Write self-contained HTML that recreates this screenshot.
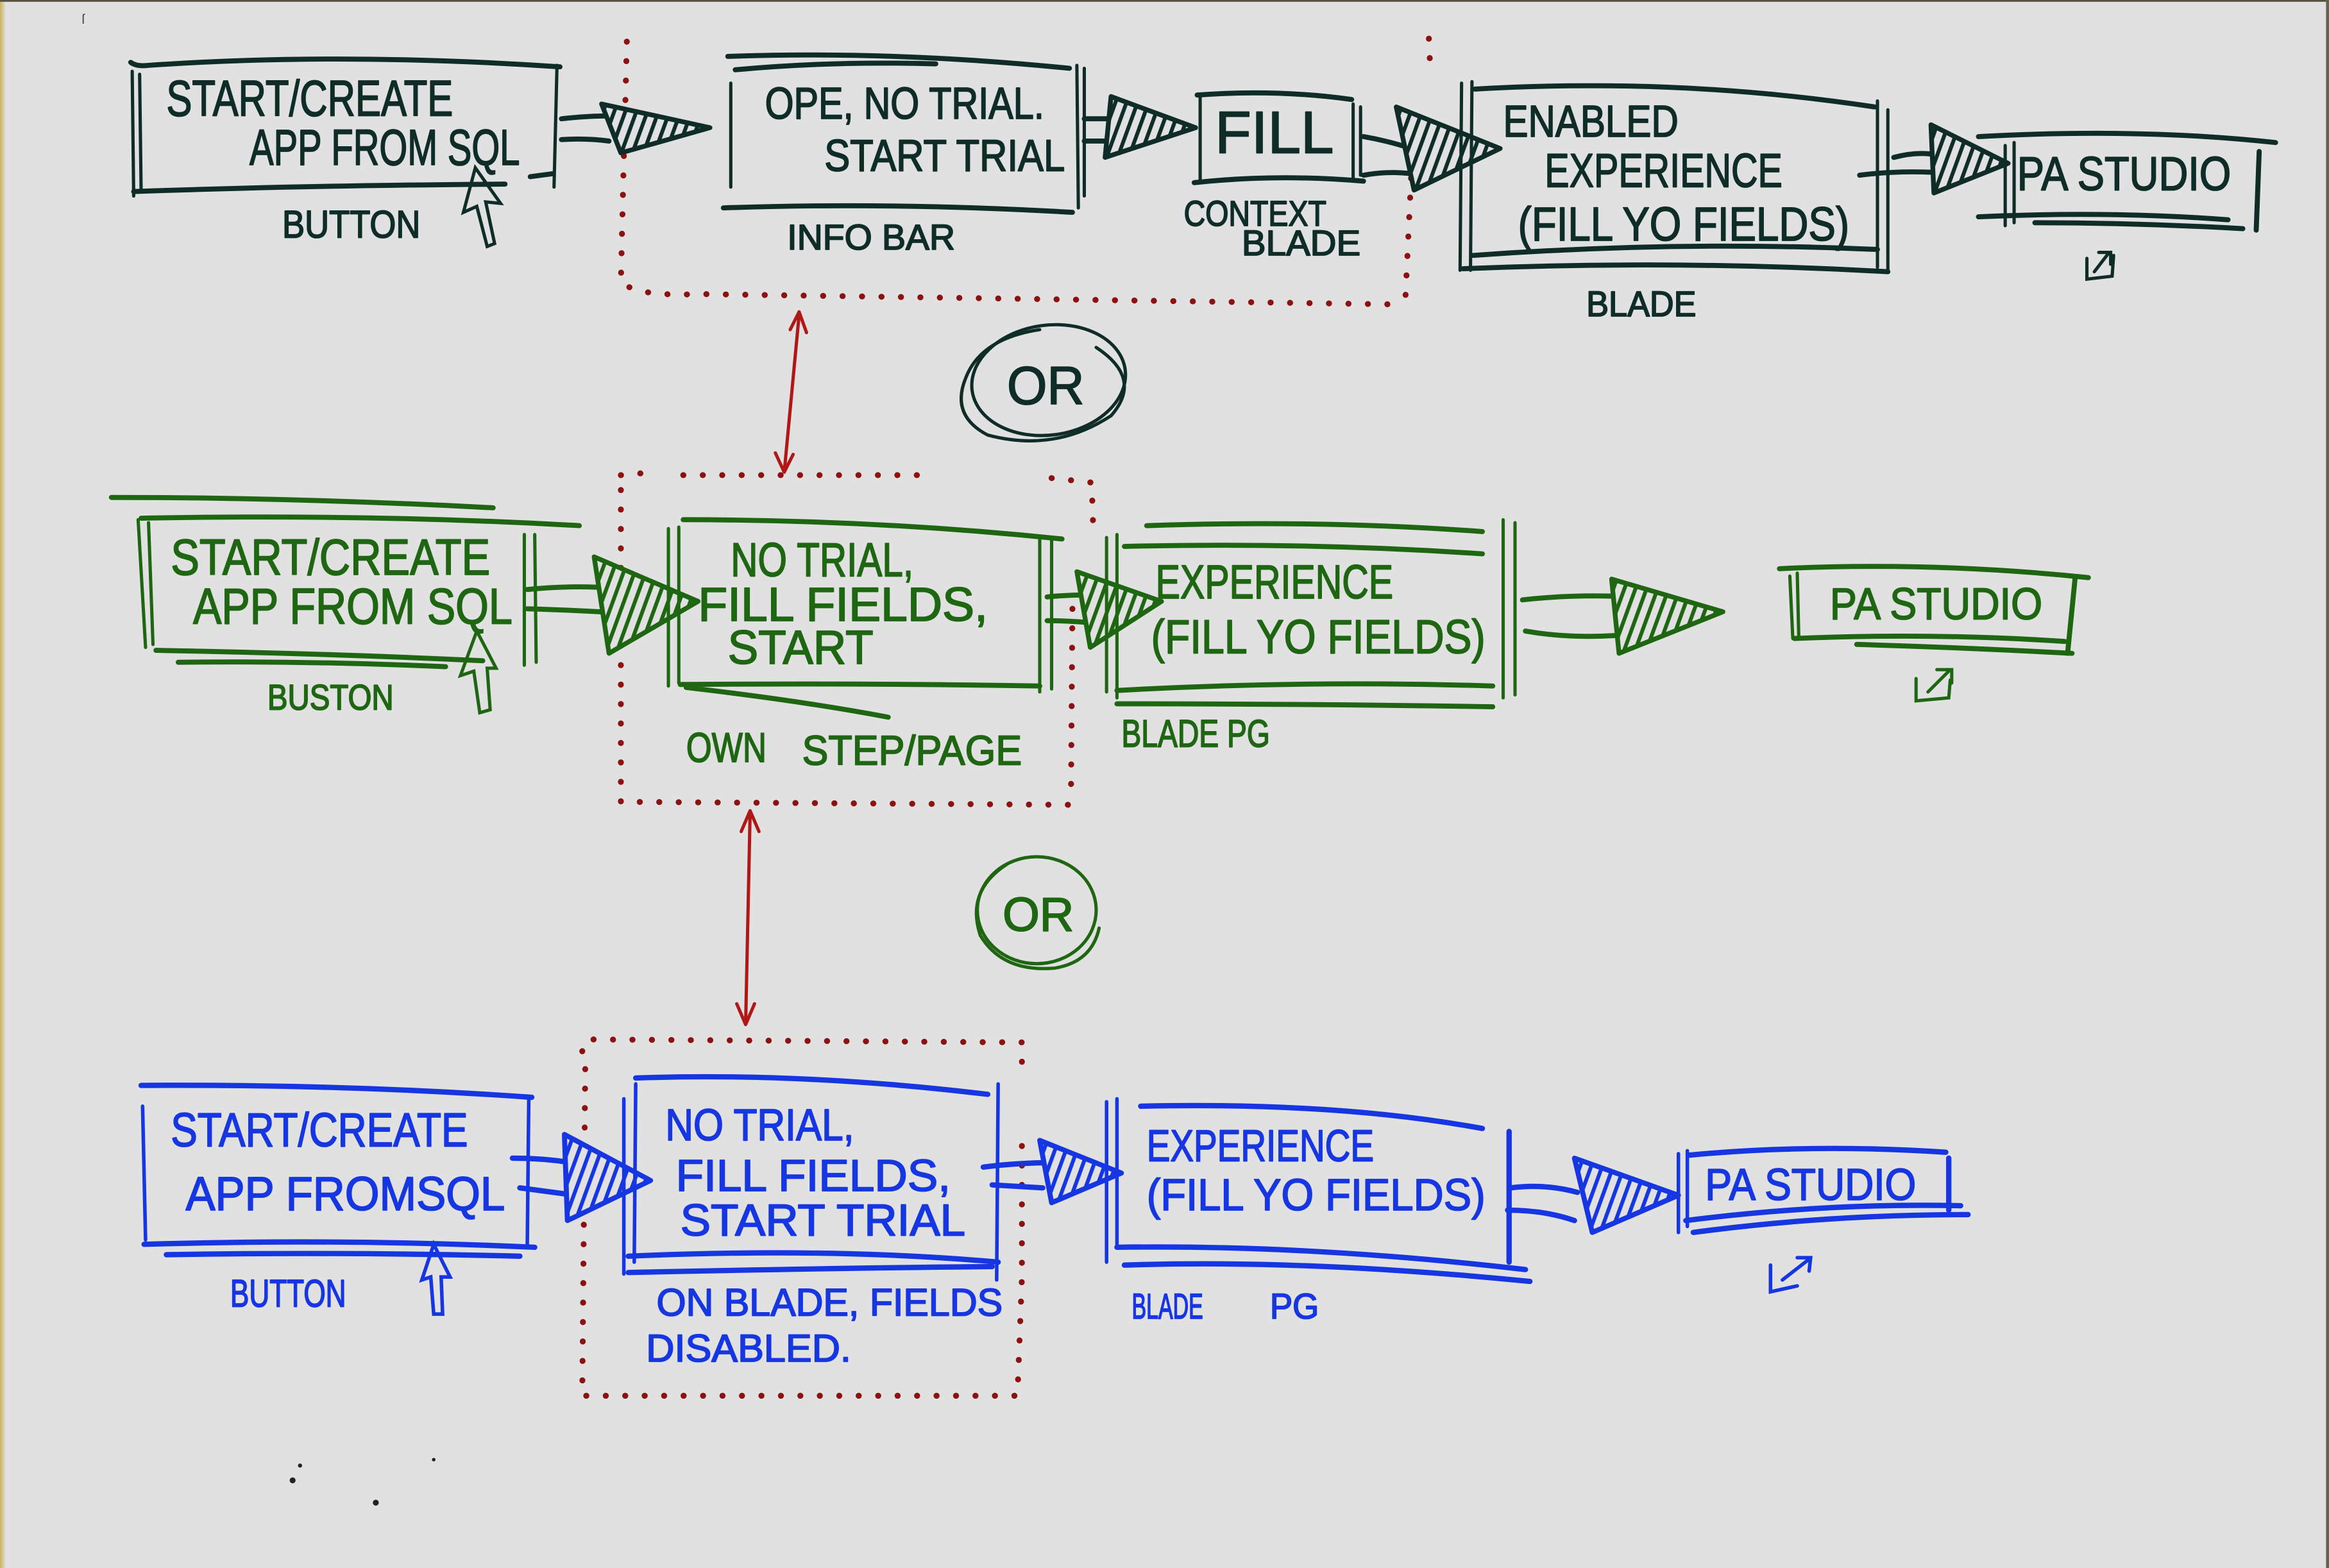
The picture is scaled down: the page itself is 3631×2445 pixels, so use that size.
<!DOCTYPE html>
<html><head><meta charset="utf-8"><style>
html,body{margin:0;padding:0;background:#e1e1e1;}
svg{display:block;}
text{font-family:"Liberation Sans Narrow","Liberation Sans",sans-serif;stroke-width:0.8;stroke-linejoin:round}
.k{stroke:#0f2c27;fill:none;stroke-width:3.4;stroke-linecap:round;stroke-linejoin:round}
.kt{stroke:#0f2c27;fill:none;stroke-width:2.2;stroke-linecap:round}
.g{stroke:#1f6613;fill:none;stroke-width:3.4;stroke-linecap:round;stroke-linejoin:round}
.gt{stroke:#1f6613;fill:none;stroke-width:2.2;stroke-linecap:round}
.b{stroke:#1636e2;fill:none;stroke-width:3.6;stroke-linecap:round;stroke-linejoin:round}
.bt{stroke:#1636e2;fill:none;stroke-width:2.4;stroke-linecap:round}
.r{stroke:#8c1212;fill:none;stroke-width:4;stroke-linecap:round;stroke-dasharray:0.1 13}
.ra{stroke:#b01818;fill:none;stroke-width:2.2;stroke-linecap:round;stroke-linejoin:round}
.tk{fill:#0f2c27;stroke:#0f2c27}.tg{fill:#1f6613;stroke:#1f6613}.tb{fill:#1636e2;stroke:#1636e2}
</style></head><body>
<svg width="3631" height="2445" viewBox="0 0 1568 1056" preserveAspectRatio="none" xmlns="http://www.w3.org/2000/svg">
<defs>
<pattern id="hk" patternUnits="userSpaceOnUse" width="7" height="7" patternTransform="rotate(20)"><rect width="7" height="7" fill="#e1e1e1"/><rect width="2.6" height="7" fill="#0f2c27"/></pattern>
<pattern id="hg" patternUnits="userSpaceOnUse" width="7" height="7" patternTransform="rotate(20)"><rect width="7" height="7" fill="#e1e1e1"/><rect width="2.6" height="7" fill="#1f6613"/></pattern>
<pattern id="hb" patternUnits="userSpaceOnUse" width="7" height="7" patternTransform="rotate(20)"><rect width="7" height="7" fill="#e1e1e1"/><rect width="2.6" height="7" fill="#1636e2"/></pattern>
<linearGradient id="edge" x1="0" x2="1" y1="0" y2="0"><stop offset="0" stop-color="#c9b35a"/><stop offset="1" stop-color="#e1e1e1"/></linearGradient>
</defs>
<rect x="0" y="0" width="1568" height="1056" fill="#e1e1e1"/>
<rect x="0" y="0" width="4" height="1056" fill="url(#edge)"/>
<rect x="0" y="0" width="1568" height="1.2" fill="#5a5040"/>
<rect x="1566" y="0" width="2" height="1056" fill="#6a6050"/>

<!-- ================= TOP ROW (dark) ================= -->
<path class="r" d="M422,28 L421,70 M420,105 L418,190 Q430,200 470,198 L940,205 M962,26 L963,48 M950,120 L946,205"/>
<!-- Box 1 -->
<path class="k" d="M88,42 Q92,45 100,44 Q230,35 377,45"/>
<path class="kt" d="M89,48 L90,132 M94,50 L95,128"/>
<path class="kt" d="M375,44 L373,126"/>
<path class="k" d="M90,129 Q200,125 340,124 M357,119 L372,117"/>
<text class="tk" x="112" y="78" font-size="34" textLength="193" lengthAdjust="spacingAndGlyphs">START/CREATE</text>
<text class="tk" x="168" y="111" font-size="34" textLength="182" lengthAdjust="spacingAndGlyphs">APP FROM SQL</text>
<text class="tk" x="190" y="160" font-size="26" textLength="93" lengthAdjust="spacingAndGlyphs">BUTTON</text>
<path class="kt" d="M320,113 L312,143 L321,139 L328,166 L333,164 L327,136 L337,137 Z"/>
<!-- arrow 1 -->
<path class="k" d="M378,80 Q395,78 415,78 M378,94 Q395,93 410,95"/>
<polygon points="405,70 478,86 418,103" fill="url(#hk)" stroke="#0f2c27" stroke-width="3.2" stroke-linejoin="round"/>
<!-- Box 2 -->
<path class="k" d="M490,38 Q600,34 720,46 M495,47 Q560,41 630,43"/>
<path class="kt" d="M492,56 L492,126"/>
<path class="kt" d="M725,44 L726,140 M730,46 L730,132"/>
<path class="k" d="M487,140 Q600,136 722,143"/>
<text class="tk" x="515" y="80" font-size="30" textLength="188" lengthAdjust="spacingAndGlyphs">OPE, NO TRIAL.</text>
<text class="tk" x="555" y="115" font-size="30" textLength="162" lengthAdjust="spacingAndGlyphs">START TRIAL</text>
<text class="tk" x="530" y="168" font-size="24" textLength="113" lengthAdjust="spacingAndGlyphs">INFO BAR</text>
<!-- arrow 2 -->
<path class="k" d="M730,80 L758,80 M730,95 L758,95"/>
<polygon points="748,65 805,86 744,106" fill="url(#hk)" stroke="#0f2c27" stroke-width="3.2" stroke-linejoin="round"/>
<!-- Box 3 FILL -->
<path class="k" d="M806,64 Q860,60 910,67"/>
<path class="kt" d="M808,64 L808,121 M911,70 L911,122 M916,72 L916,118"/>
<path class="k" d="M804,123 Q860,117 918,122"/>
<text class="tk" x="818" y="103" font-size="40" textLength="80" lengthAdjust="spacingAndGlyphs">FILL</text>
<text class="tk" x="797" y="152" font-size="24" textLength="96" lengthAdjust="spacingAndGlyphs">CONTEXT</text>
<text class="tk" x="836" y="172" font-size="24" textLength="80" lengthAdjust="spacingAndGlyphs">BLADE</text>
<!-- arrow 3 -->
<path class="k" d="M918,92 Q935,95 950,100 M918,118 Q935,115 950,117"/>
<polygon points="940,72 1010,100 952,128" fill="url(#hk)" stroke="#0f2c27" stroke-width="3.2" stroke-linejoin="round"/>
<!-- Box 4 -->
<path class="kt" d="M984,56 L983,182 M991,55 L990,182"/>
<path class="k" d="M993,60 Q1130,52 1262,72"/>
<path class="kt" d="M1264,68 L1264,180 M1271,74 L1271,182"/>
<path class="k" d="M992,172 Q1130,162 1264,168 M985,181 Q1130,175 1271,183"/>
<text class="tk" x="1012" y="92" font-size="30" textLength="118" lengthAdjust="spacingAndGlyphs">ENABLED</text>
<text class="tk" x="1040" y="126" font-size="32" textLength="160" lengthAdjust="spacingAndGlyphs">EXPERIENCE</text>
<text class="tk" x="1022" y="162" font-size="32" textLength="223" lengthAdjust="spacingAndGlyphs">(FILL YO FIELDS)</text>
<text class="tk" x="1068" y="213" font-size="24" textLength="74" lengthAdjust="spacingAndGlyphs">BLADE</text>
<!-- arrow 4 -->
<path class="k" d="M1252,118 Q1275,115 1300,116 M1275,106 Q1290,102 1302,104"/>
<polygon points="1300,84 1352,110 1302,130" fill="url(#hk)" stroke="#0f2c27" stroke-width="3.2" stroke-linejoin="round"/>
<!-- Box 5 -->
<path class="k" d="M1332,92 Q1440,86 1532,96"/>
<path class="kt" d="M1350,98 L1350,152 M1356,96 L1356,150"/>
<path class="k" d="M1521,102 L1519,155"/>
<path class="k" d="M1332,146 Q1420,142 1500,148 M1370,150 Q1440,150 1510,154"/>
<text class="tk" x="1358" y="128" font-size="32" textLength="144" lengthAdjust="spacingAndGlyphs">PA STUDIO</text>
<path class="kt" d="M1405,174 L1405,188 L1422,186 L1423,172 M1410,183 L1420,170 M1413,170 L1421,170 L1421,178"/>
<!-- OR circle 1 -->
<ellipse cx="706" cy="256" rx="52" ry="37" class="kt" transform="rotate(-8 706 256)"/>
<path class="kt" d="M738,234 Q770,255 748,280 Q710,305 665,293 Q640,280 650,255 Q660,228 700,222"/>
<text class="tk" x="678" y="272" font-size="36" textLength="52" lengthAdjust="spacingAndGlyphs">OR</text>
<!-- red double arrow 1 -->
<path class="ra" d="M538,212 L528,318 M532,222 L538,210 L543,224 M522,305 L528,318 L534,306"/>

<!-- ================= MIDDLE ROW (green) ================= -->
<path class="r" d="M418,320 L440,318 M460,320 L625,320 M708,322 L735,325 L736,356 M418,330 L418,540 L720,542 M722,410 L721,540"/>
<!-- Box 6 -->
<path class="g" d="M75,335 Q200,335 332,342 M95,349 Q250,346 390,354"/>
<path class="gt" d="M93,350 L98,436 M100,352 L103,434"/>
<path class="gt" d="M353,360 L353,448 M360,360 L361,446"/>
<path class="g" d="M105,438 Q220,440 325,445 M120,446 Q210,445 300,449"/>
<text class="tg" x="115" y="387" font-size="34" textLength="215" lengthAdjust="spacingAndGlyphs">START/CREATE</text>
<text class="tg" x="130" y="420" font-size="34" textLength="215" lengthAdjust="spacingAndGlyphs">APP FROM SQL</text>
<text class="tg" x="180" y="478" font-size="24" textLength="85" lengthAdjust="spacingAndGlyphs">BUSTON</text>
<path class="gt" d="M321,425 L310,455 L319,452 L323,480 L330,478 L328,450 L334,450 Z"/>
<!-- arrow 6 -->
<path class="g" d="M355,397 Q385,394 412,396 M355,410 Q390,411 420,413"/>
<polygon points="400,375 470,405 410,440" fill="url(#hg)" stroke="#1f6613" stroke-width="3.2" stroke-linejoin="round"/>
<!-- Box 7 -->
<path class="g" d="M460,350 Q590,350 715,363"/>
<path class="gt" d="M450,356 L450,462 M457,355 L457,460"/>
<path class="gt" d="M700,362 L700,466 M708,362 L708,464"/>
<path class="g" d="M458,461 Q580,460 700,462 M462,463 Q540,472 598,483"/>
<text class="tg" x="492" y="388" font-size="32" textLength="123" lengthAdjust="spacingAndGlyphs">NO TRIAL,</text>
<text class="tg" x="470" y="418" font-size="32" textLength="195" lengthAdjust="spacingAndGlyphs">FILL FIELDS,</text>
<text class="tg" x="490" y="447" font-size="32" textLength="98" lengthAdjust="spacingAndGlyphs">START</text>
<text class="tg" x="462" y="513" font-size="28" textLength="54" lengthAdjust="spacingAndGlyphs">OWN</text>
<text class="tg" x="540" y="515" font-size="28" textLength="148" lengthAdjust="spacingAndGlyphs">STEP/PAGE</text>
<!-- arrow 7 -->
<path class="g" d="M705,402 Q725,400 745,401 M705,418 Q722,418 740,420"/>
<polygon points="725,385 782,405 734,436" fill="url(#hg)" stroke="#1f6613" stroke-width="3.2" stroke-linejoin="round"/>
<!-- Box 8 -->
<path class="g" d="M772,354 Q890,350 998,358 M757,368 Q880,365 998,373"/>
<path class="gt" d="M745,362 L745,466 M752,360 L752,470"/>
<path class="gt" d="M1012,350 L1012,470 M1020,352 L1020,468"/>
<path class="g" d="M752,465 Q880,458 1005,462 M752,474 Q880,474 1005,476"/>
<text class="tg" x="778" y="403" font-size="32" textLength="160" lengthAdjust="spacingAndGlyphs">EXPERIENCE</text>
<text class="tg" x="775" y="440" font-size="32" textLength="225" lengthAdjust="spacingAndGlyphs">(FILL YO FIELDS)</text>
<text class="tg" x="755" y="503" font-size="26" textLength="100" lengthAdjust="spacingAndGlyphs">BLADE PG</text>
<!-- arrow 8 -->
<path class="g" d="M1025,404 Q1060,400 1100,402 M1027,425 Q1055,430 1088,428"/>
<polygon points="1085,390 1160,412 1090,440" fill="url(#hg)" stroke="#1f6613" stroke-width="3.2" stroke-linejoin="round"/>
<!-- Box 9 -->
<path class="g" d="M1198,383 Q1300,378 1406,389"/>
<path class="gt" d="M1205,388 L1207,430 M1210,386 L1211,428"/>
<path class="g" d="M1397,390 L1392,440"/>
<path class="g" d="M1208,430 Q1300,426 1390,432 M1250,434 Q1320,436 1395,440"/>
<text class="tg" x="1232" y="417" font-size="30" textLength="143" lengthAdjust="spacingAndGlyphs">PA STUDIO</text>
<path class="gt" d="M1290,457 L1290,472 L1312,470 L1313,458 M1298,466 L1312,452 M1304,451 L1314,451 L1314,460"/>
<!-- OR circle 2 -->
<ellipse cx="698" cy="613" rx="40" ry="36" class="gt" stroke-width="2.6"/>
<path class="gt" d="M678,582 Q650,600 660,630 Q675,655 710,652 Q735,648 740,625" stroke-width="2.6"/>
<text class="tg" x="675" y="627" font-size="32" textLength="48" lengthAdjust="spacingAndGlyphs">OR</text>
<!-- red double arrow 2 -->
<path class="ra" d="M505,548 L502,690 M499,560 L505,546 L511,560 M496,676 L502,690 L508,676"/>

<!-- ================= BOTTOM ROW (blue) ================= -->
<path class="r" d="M392,708 L395,700 L688,702 M688,715 L688,722 M394,720 L392,940 L685,940 L688,860 L688,760"/>
<!-- Box 10 -->
<path class="b" d="M95,731 Q230,730 358,739"/>
<path class="bt" d="M96,745 L98,835"/>
<path class="bt" d="M356,740 L355,838"/>
<path class="b" d="M97,838 Q230,834 360,840 M112,845 Q230,843 350,846"/>
<text class="tb" x="115" y="772" font-size="32" textLength="200" lengthAdjust="spacingAndGlyphs">START/CREATE</text>
<text class="tb" x="125" y="815" font-size="32" textLength="215" lengthAdjust="spacingAndGlyphs">APP FROMSQL</text>
<text class="tb" x="155" y="880" font-size="26" textLength="78" lengthAdjust="spacingAndGlyphs">BUTTON</text>
<path class="bt" d="M292,838 L284,862 L290,860 L292,885 L298,885 L297,860 L303,860 Z"/>
<!-- arrow 10 -->
<path class="b" d="M345,780 Q365,780 385,783 M350,800 Q372,803 395,806"/>
<polygon points="380,764 438,795 382,822" fill="url(#hb)" stroke="#1636e2" stroke-width="3.4" stroke-linejoin="round"/>
<!-- Box 11 -->
<path class="b" d="M428,726 Q540,722 665,737"/>
<path class="bt" d="M420,740 L420,858 M428,730 L427,850"/>
<path class="bt" d="M672,730 L671,862"/>
<path class="b" d="M423,846 Q560,840 672,850 M423,857 Q560,854 668,853"/>
<text class="tb" x="448" y="768" font-size="30" textLength="127" lengthAdjust="spacingAndGlyphs">NO TRIAL,</text>
<text class="tb" x="455" y="802" font-size="30" textLength="185" lengthAdjust="spacingAndGlyphs">FILL FIELDS,</text>
<text class="tb" x="458" y="832" font-size="30" textLength="192" lengthAdjust="spacingAndGlyphs">START TRIAL</text>
<text class="tb" x="442" y="886" font-size="26" textLength="233" lengthAdjust="spacingAndGlyphs">ON BLADE, FIELDS</text>
<text class="tb" x="435" y="917" font-size="26" textLength="138" lengthAdjust="spacingAndGlyphs">DISABLED.</text>
<!-- arrow 11 -->
<path class="b" d="M662,786 Q685,783 710,783 M668,798 Q685,799 702,800"/>
<polygon points="700,768 755,790 708,810" fill="url(#hb)" stroke="#1636e2" stroke-width="3.4" stroke-linejoin="round"/>
<!-- Box 12 -->
<path class="bt" d="M745,742 L745,850 M752,740 L752,840"/>
<path class="b" d="M768,745 Q900,742 998,760"/>
<path class="b" d="M1016,762 L1016,850"/>
<path class="b" d="M752,840 Q880,838 1027,855 M757,852 Q880,848 1030,863"/>
<text class="tb" x="772" y="782" font-size="30" textLength="153" lengthAdjust="spacingAndGlyphs">EXPERIENCE</text>
<text class="tb" x="772" y="815" font-size="30" textLength="228" lengthAdjust="spacingAndGlyphs">(FILL YO FIELDS)</text>
<text class="tb" x="762" y="888" font-size="24" textLength="48" lengthAdjust="spacingAndGlyphs">BLADE</text>
<text class="tb" x="855" y="888" font-size="24" textLength="33" lengthAdjust="spacingAndGlyphs">PG</text>
<!-- arrow 12 -->
<path class="b" d="M1017,800 Q1040,797 1062,803 M1015,815 Q1040,815 1060,822"/>
<polygon points="1060,780 1130,805 1072,830" fill="url(#hb)" stroke="#1636e2" stroke-width="3.4" stroke-linejoin="round"/>
<!-- Box 13 -->
<path class="b" d="M1137,778 Q1220,770 1310,776"/>
<path class="bt" d="M1130,777 L1130,830 M1136,775 L1136,826"/>
<path class="b" d="M1312,780 L1312,815"/>
<path class="b" d="M1135,822 Q1230,810 1320,812 M1140,830 Q1230,818 1325,818"/>
<text class="tb" x="1148" y="808" font-size="30" textLength="142" lengthAdjust="spacingAndGlyphs">PA STUDIO</text>
<path class="bt" d="M1192,852 L1192,870 L1210,866 M1200,862 L1218,848 M1210,847 L1219,847 L1218,856"/>

<!-- specks -->
<circle cx="202" cy="987" r="1.4" fill="#222"/>
<circle cx="197" cy="997" r="2" fill="#222"/>
<circle cx="253" cy="1012" r="2" fill="#222"/>
<circle cx="292" cy="983" r="1.2" fill="#222"/>
<text x="55" y="16" font-size="9" fill="#444">ſ</text>
</svg>
</body></html>
